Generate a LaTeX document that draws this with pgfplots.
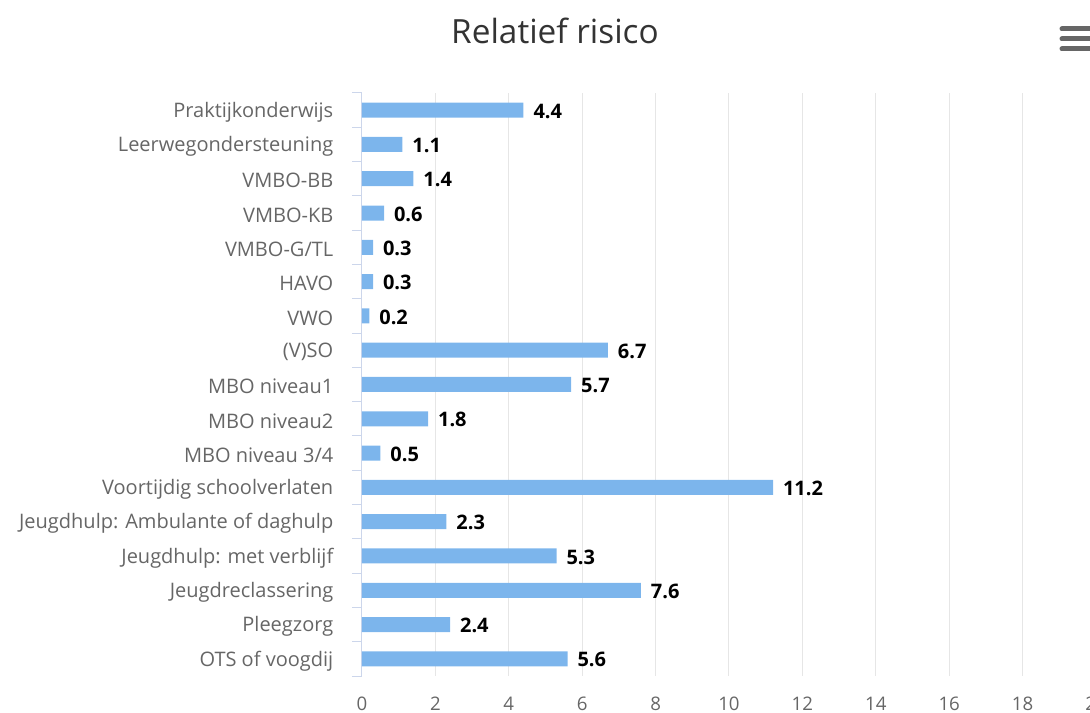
\documentclass[border=0pt]{standalone}
\usepackage{fontspec}
\setmainfont{Open Sans}
\usepackage{pgfplots}
\pgfplotsset{compat=1.18}
\definecolor{barblue}{HTML}{7CB5EC}
\definecolor{gridgray}{HTML}{E6E6E6}
\definecolor{axisblue}{HTML}{CCD6EB}
\definecolor{labelgray}{HTML}{666666}
\definecolor{titlegray}{HTML}{333333}
\begin{document}
\begin{tikzpicture}[x=0.75pt,y=0.75pt]
\begin{axis}[
  at={(0,0)}, anchor=south west,
  scale only axis,
  width=550.5pt, height=437.25pt,
  xbar, bar width=11.25pt,
  xmin=0, xmax=20,
  ymin=-0.5, ymax=16.5,
  y dir=reverse,
  xtick={0,2,...,20},
  ytick={0,...,16},
  yticklabels={Praktijkonderwijs,Leerwegondersteuning,VMBO-BB,VMBO-KB,VMBO-G/TL,HAVO,VWO,(V)SO,MBO niveau1,MBO niveau2,MBO niveau 3/4,Voortijdig schoolverlaten,Jeugdhulp: Ambulante of daghulp,Jeugdhulp: met verblijf,Jeugdreclassering,Pleegzorg,OTS of voogdij},
  minor ytick={-0.5,0.5,...,16.5},
  major tick length=0pt,
  minor tick length=7.5pt,
  tick align=outside,
  ytick pos=left,
  xtick pos=bottom,
  axis y line*=left,
  axis x line*=bottom,
  x axis line style={draw=none},
  y axis line style={draw=axisblue, line width=0.75pt},
  minor tick style={draw=axisblue, line width=0.75pt},
  xmajorgrids,
  major grid style={draw=gridgray, line width=0.75pt},
  /pgf/number format/assume math mode=true,
  yticklabel style={font=\fontsize{15pt}{18pt}\selectfont, text=labelgray, xshift=-18pt, yshift=-1.5pt},
  xticklabel style={font=\fontsize{14pt}{17pt}\selectfont, text=labelgray, yshift=-12pt},
  nodes near coords,
  nodes near coords align={horizontal},
  every node near coord/.append style={font=\fontsize{15pt}{18pt}\selectfont\bfseries, text=black, anchor=west, xshift=4pt, yshift=-0.75pt},
  point meta=explicit symbolic,
]
\addplot[draw=none, fill=barblue] coordinates {
(4.4,0) [4.4]
(1.1,1) [1.1]
(1.4,2) [1.4]
(0.6,3) [0.6]
(0.3,4) [0.3]
(0.3,5) [0.3]
(0.2,6) [0.2]
(6.7,7) [6.7]
(5.7,8) [5.7]
(1.8,9) [1.8]
(0.5,10) [0.5]
(11.2,11) [11.2]
(2.3,12) [2.3]
(5.3,13) [5.3]
(7.6,14) [7.6]
(2.4,15) [2.4]
(5.6,16) [5.6]
};
\end{axis}
\node[font=\fontsize{25pt}{30pt}\selectfont, text=titlegray] at (193,645) {Relatief risico};
\foreach \yy in {647,637,627}{
  \draw[labelgray, line width=3.75pt, line cap=round] (700,\yy) -- (728,\yy);
}
\pgfresetboundingbox
\useasboundingbox (-362,-37) rectangle (728,676);
\end{tikzpicture}
\end{document}
